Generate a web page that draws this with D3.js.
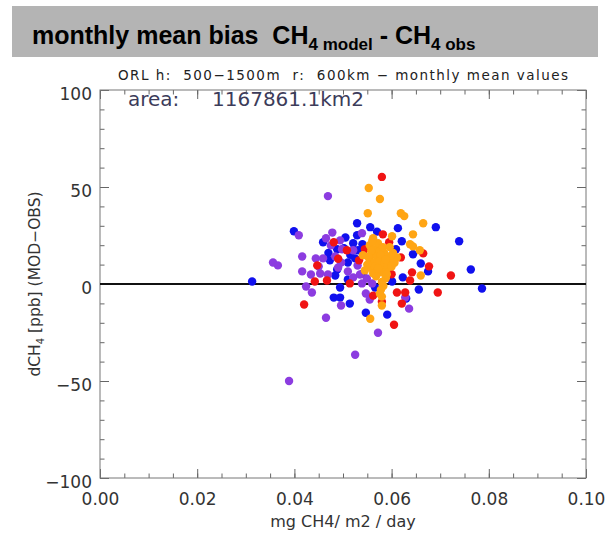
<!DOCTYPE html>
<html>
<head>
<meta charset="utf-8">
<script src="https://cdn.jsdelivr.net/npm/d3@7"></script>
<style>
  body { margin: 0; background: #fff; }
  text { white-space: pre; }
  .axis text { font-family: "DejaVu Sans", sans-serif; fill: #333; }
  .axis line { stroke: #666; }
  .axis path { display: none; }
</style>
</head>
<body>
<svg id="chart" width="606" height="538"></svg>
<script>
// values: [flux, bias]
const bluePts = [
  [0.0529,31.3],[0.0556,29.3],[0.0399,27.2],[0.0529,25.1],[0.0459,21.5],[0.0521,21.0],
  [0.0488,17.9],[0.0502,18.4],[0.0531,17.4],[0.0473,12.2],[0.0510,11.1],[0.0525,13.2],
  [0.0613,28.8],[0.0691,29.3],[0.0621,22.0],[0.0739,22.0],[0.0609,17.9],[0.0644,15.3],
  [0.0660,10.6],[0.0675,6.5],[0.0763,7.5],[0.0623,3.4],[0.0601,1.3],[0.0786,-2.3],
  [0.0656,-2.8],[0.0630,-7.5],[0.0591,-15.8],[0.0547,-14.8],[0.0313,1.3],[0.0488,7.5],
  [0.0484,4.4],[0.0494,-1.8],[0.0481,-7.0],[0.0494,-7.0],[0.0514,-10.1],[0.0510,2.3],
  [0.0541,5.4],[0.0566,-1.8],[0.0505,24.0],[0.0540,20.5],[0.0515,15.0],[0.0570,27.0],
  [0.0470,16.0]
];
const purplePts = [
  [0.0469,45.3],[0.0409,25.1],[0.0539,26.2],[0.0465,23.6],[0.0494,22.5],[0.0475,19.9],
  [0.0498,17.9],[0.0521,17.4],[0.0356,11.1],[0.0366,9.6],[0.0416,14.2],[0.0444,13.2],
  [0.0459,13.2],[0.0484,14.2],[0.0496,11.1],[0.0416,6.5],[0.0434,4.9],[0.0453,5.4],
  [0.0469,4.9],[0.0424,-1.3],[0.0436,-4.4],[0.0496,-11.1],[0.0465,-17.4],[0.0572,-25.1],
  [0.0525,-36.5],[0.0389,-50.0],[0.0510,6.5],[0.0521,3.4],[0.0535,4.9],[0.0539,0.3],
  [0.0549,2.8],[0.0560,0.3],[0.0547,-4.9],[0.0628,-7.0],[0.0636,-12.7],[0.0450,9.0],
  [0.0490,8.5],[0.0530,9.5],[0.0555,-8.0],[0.0478,26.5]
];
const redPts = [
  [0.0580,55.2],[0.0481,21.5],[0.0508,17.4],[0.0447,9.6],[0.0533,12.2],[0.0582,25.6],
  [0.0595,21.5],[0.0665,15.8],[0.0619,13.7],[0.0677,9.1],[0.0722,4.4],[0.0695,-4.4],
  [0.0642,6.0],[0.0638,1.8],[0.0611,-4.4],[0.0628,-4.4],[0.0621,-10.1],[0.0605,-21.0],
  [0.0562,-6.0],[0.0442,1.3],[0.0467,1.8],[0.0420,-10.6],[0.0514,0.3],[0.0580,-9.1],
  [0.0545,18.0],[0.0600,5.0],[0.0490,13.0]
];
const orangePts = [
  [0.0553,49.5],[0.0576,43.8],[0.0551,36.5],[0.0619,36.5],[0.0626,35.0],[0.0665,31.3],
  [0.0644,25.6],[0.0601,24.6],[0.0562,23.6],[0.0638,20.5],[0.0644,19.4],[0.0658,17.4],
  [0.0541,14.8],[0.0660,4.4],[0.0611,13.7],[0.0580,-6.5],[0.0580,-11.1],[0.0556,-17.9],
  [0.0555,20.0],[0.0565,18.0],[0.0575,17.0],[0.0585,16.0],[0.0560,15.0],[0.0570,14.0],
  [0.0580,13.0],[0.0590,14.0],[0.0595,12.0],[0.0555,12.0],[0.0565,11.0],[0.0575,10.0],
  [0.0585,9.0],[0.0590,8.0],[0.0560,8.0],[0.0570,7.0],[0.0580,6.0],[0.0575,12.0],
  [0.0585,11.0],[0.0565,9.0],[0.0578,15.0],[0.0592,10.0],[0.0550,10.0],[0.0568,4.0],
  [0.0588,3.0],[0.0600,9.0],[0.0545,7.0],[0.0583,-1.0],[0.0578,-3.0],[0.0596,19.0],
  [0.0572,21.0],[0.0603,16.0],[0.0558,17.0],[0.0582,19.0],[0.0562,5.5],[0.0590,5.0],
  [0.0598,14.5],[0.0572,8.0],[0.0588,12.5],[0.0552,14.0],[0.0580,1.0],[0.0576,-5.0],
  [0.0606,11.0],[0.0560,22.0]
];
const xTicks = [0, 0.02, 0.04, 0.06, 0.08, 0.10];
const yTicks = [-100, -50, 0, 50, 100];
const series = [
  { pts: bluePts, color: "#1010ee" },
  { pts: purplePts, color: "#8c3ce0" },
  { pts: redPts, color: "#f01414" },
  { pts: orangePts, color: "#ffa514" }
];

const svg = d3.select("#chart");
const frame = { left: 100, right: 586, top: 90, bottom: 478 };

const x = d3.scaleLinear().domain([0, 0.1]).range([frame.left, frame.right]);
const y = d3.scaleLinear().domain([-100, 100]).range([frame.bottom, frame.top]);

// title bar
svg.append("rect").attr("x", 12).attr("y", 6).attr("width", 586).attr("height", 51).attr("fill", "#b4b4b4");
const title = svg.append("text").attr("x", 32).attr("y", 44)
  .attr("font-family", "Liberation Sans, Arial, sans-serif").attr("font-weight", "bold")
  .attr("font-size", 25).attr("fill", "#000");
title.append("tspan").text("monthly mean bias  CH");
title.append("tspan").attr("font-size", 17).attr("dy", 6).text("4 model");
title.append("tspan").attr("dy", -6).text(" - CH");
title.append("tspan").attr("font-size", 17).attr("dy", 6).text("4 obs");

svg.append("text").attr("x", (frame.left + frame.right) / 2).attr("y", 80)
  .attr("text-anchor", "middle").attr("font-family", "DejaVu Sans, sans-serif")
  .attr("font-size", 13.5).attr("fill", "#222")
  .attr("textLength", 450)
  .text("ORL h:  500\u22121500m  r:  600km \u2212 monthly mean values");

// minor ticks
const minorX = d3.range(0, 0.1001, 0.005);
const minorY = d3.range(-100, 101, 10);
svg.append("g").attr("class", "axis").attr("transform", `translate(0,${frame.bottom})`)
  .call(d3.axisBottom(x).tickValues(minorX).tickSize(-4.5).tickFormat(""));
svg.append("g").attr("class", "axis").attr("transform", `translate(0,${frame.top})`)
  .call(d3.axisTop(x).tickValues(minorX).tickSize(-4.5).tickFormat(""));
svg.append("g").attr("class", "axis").attr("transform", `translate(${frame.left},0)`)
  .call(d3.axisLeft(y).tickValues(minorY).tickSize(-4.5).tickFormat(""));
svg.append("g").attr("class", "axis").attr("transform", `translate(${frame.right},0)`)
  .call(d3.axisRight(y).tickValues(minorY).tickSize(-4.5).tickFormat(""));

// major ticks
svg.append("g").attr("class", "axis").attr("transform", `translate(0,${frame.bottom})`)
  .call(d3.axisBottom(x).tickValues(xTicks).tickSize(-9).tickPadding(15).tickFormat(d3.format(".2f")))
  .selectAll("text").attr("font-size", 17);
svg.append("g").attr("class", "axis").attr("transform", `translate(0,${frame.top})`)
  .call(d3.axisTop(x).tickValues(xTicks).tickSize(-9).tickFormat(""));
svg.append("g").attr("class", "axis").attr("transform", `translate(${frame.left},0)`)
  .call(d3.axisLeft(y).tickValues(yTicks).tickSize(-9).tickPadding(8).tickFormat(d => d < 0 ? "\u2212" + Math.abs(d) : d))
  .selectAll("text").attr("font-size", 17).attr("dy", "0.55em");
svg.append("g").attr("class", "axis").attr("transform", `translate(${frame.right},0)`)
  .call(d3.axisRight(y).tickValues(yTicks).tickSize(-9).tickFormat(""));

svg.append("rect").attr("x", frame.left).attr("y", frame.top)
  .attr("width", frame.right - frame.left).attr("height", frame.bottom - frame.top)
  .attr("fill", "none").attr("stroke", "#777").attr("stroke-width", 1);

// zero line
svg.append("line").attr("x1", x(0)).attr("x2", x(0.1)).attr("y1", y(0)).attr("y2", y(0))
  .attr("stroke", "#111").attr("stroke-width", 2);

// points
series.forEach(s => {
  svg.append("g").selectAll("circle").data(s.pts).join("circle")
    .attr("cx", d => x(d[0])).attr("cy", d => y(d[1])).attr("r", 4.2)
    .attr("fill", s.color);
});

const area = svg.append("text").attr("y", 106)
  .attr("font-family", "DejaVu Sans, sans-serif").attr("font-size", 20).attr("fill", "#3c3c5a");
area.append("tspan").attr("x", 128).text("area:");
area.append("tspan").attr("x", 212).text("1167861.1km2");

svg.append("text").attr("x", (frame.left + frame.right) / 2).attr("y", 527).attr("text-anchor", "middle")
  .attr("font-family", "DejaVu Sans, sans-serif").attr("font-size", 16).attr("fill", "#333")
  .text("mg CH4/ m2 / day");

const yl = svg.append("text").attr("transform", `translate(40,${(frame.top + frame.bottom) / 2}) rotate(-90)`)
  .attr("text-anchor", "middle").attr("font-family", "DejaVu Sans, sans-serif")
  .attr("font-size", 15.5).attr("fill", "#333");
yl.append("tspan").text("dCH");
yl.append("tspan").attr("font-size", 10).attr("dy", 4).text("4");
yl.append("tspan").attr("dy", -4).text(" [ppb] (MOD\u2212OBS)");
</script>
</body>
</html>
